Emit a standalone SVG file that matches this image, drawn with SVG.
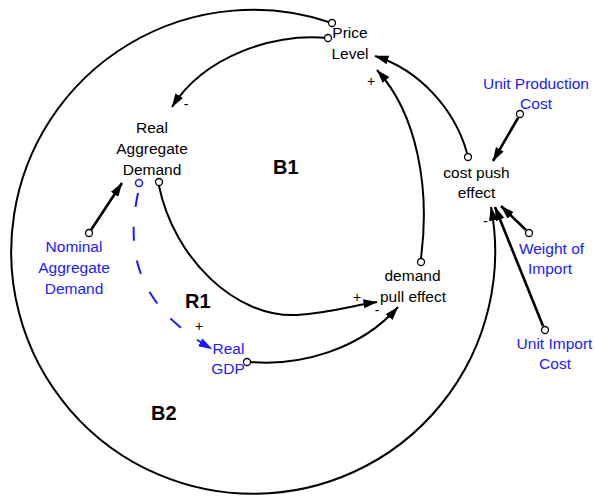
<svg xmlns="http://www.w3.org/2000/svg" width="595" height="498" viewBox="0 0 595 498">
  <style>
    .lbl { font-family: "Liberation Sans", Arial, sans-serif; font-size: 15.5px; text-anchor: middle; fill: #000; }
    .aux { fill: #2020ff; }
    .loop { font-family: "Liberation Sans", Arial, sans-serif; font-size: 20px; font-weight: bold; fill: #000; }
    .pol { font-family: "Liberation Sans", Arial, sans-serif; font-size: 14px; text-anchor: middle; fill: #000; }
    .link { fill: none; stroke: #000; stroke-width: 2; marker-end: url(#ah); }
    .thick { stroke-width: 2.6; }
    .dash { fill: none; stroke: #1a1aff; stroke-width: 2; stroke-dasharray: 14 20; marker-end: url(#ahb); }
    .tail { fill: #fff; stroke: #000; stroke-width: 1.3; }
    .tailb { fill: #fff; stroke: #1a1aff; stroke-width: 1.5; }
  </style>
  <defs>
    <marker id="ah" viewBox="0 0 14 9" refX="13.5" refY="4.5" markerWidth="14" markerHeight="9" markerUnits="userSpaceOnUse" orient="auto">
      <path d="M0,0 L14,4.5 L0,9 z" fill="#000"/>
    </marker>
    <marker id="ahb" viewBox="0 0 14 9" refX="13.5" refY="4.5" markerWidth="14" markerHeight="9" markerUnits="userSpaceOnUse" orient="auto">
      <path d="M0,0 L14,4.5 L0,9 z" fill="#1a1aff"/>
    </marker>
  </defs>

  <!-- causal links -->
  <g id="connectors">
    <!-- outer loop B2: Price Level round to cost push effect -->
    <path class="link" d="M 332 23 A 242 242 0 1 0 491 207"/>
    <!-- Price Level -> Real Aggregate Demand -->
    <path class="link" d="M 328 38 C 275 33, 205 55, 172 107"/>
    <!-- cost push effect -> Price Level -->
    <path class="link" d="M 467 153 C 455 110, 420 70, 375 56"/>
    <!-- demand pull effect -> Price Level -->
    <path class="link" d="M 421 258 C 430 190, 418 115, 377 70"/>
    <!-- Real Aggregate Demand -> demand pull effect -->
    <path class="link" d="M 159 186 C 174 258, 235 318, 297 315 C 330 313, 355 305, 377 302"/>
    <!-- Real GDP -> demand pull effect -->
    <path class="link" d="M 251 362 C 300 366, 360 350, 398 307"/>
    <!-- Real Aggregate Demand -> Real GDP (delayed, dashed) -->
    <path class="dash" d="M 138 193 C 126 250, 135 305, 212 349"/>
    <!-- Nominal Aggregate Demand -> Real Aggregate Demand -->
    <path class="link thick" d="M 91 230 L 122 183"/>
    <!-- Unit Production Cost -> cost push effect -->
    <path class="link thick" d="M 518 118 L 493 161"/>
    <!-- Weight of Import -> cost push effect -->
    <path class="link thick" d="M 526 230 L 501 206"/>
    <!-- Unit Import Cost -> cost push effect -->
    <path class="link thick" d="M 543 326 L 495 207"/>

    <!-- link tails -->
    <circle class="tail" cx="332" cy="23" r="3.5"/>
    <circle class="tail" cx="328" cy="38" r="3.5"/>
    <circle class="tail" cx="468" cy="157" r="3.5"/>
    <circle class="tail" cx="421" cy="262" r="3.5"/>
    <circle class="tail" cx="159" cy="182" r="3.5"/>
    <circle class="tailb" cx="139" cy="183" r="3.5"/>
    <circle class="tail" cx="247" cy="362" r="3.5"/>
    <circle class="tail" cx="89" cy="233" r="3.5"/>
    <circle class="tail" cx="520" cy="114" r="3.5"/>
    <circle class="tail" cx="529" cy="233" r="3.5"/>
    <circle class="tail" cx="545" cy="330" r="3.5"/>

    <!-- polarities -->
    <text class="pol" x="371" y="86">+</text>
    <text class="pol" x="186" y="109">-</text>
    <text class="pol" x="357" y="302">+</text>
    <text class="pol" x="377" y="315">-</text>
    <text class="pol" x="199" y="331" fill="#1a1aff">+</text>
    <text class="pol" x="485.5" y="226">-</text>
  </g>

  <!-- variables -->
  <g id="price-level">
    <text class="lbl" x="350" y="37.5">Price</text>
    <text class="lbl" x="350" y="58.5">Level</text>
  </g>
  <g id="real-aggregate-demand">
    <text class="lbl" x="152" y="132.5">Real</text>
    <text class="lbl" x="152" y="153.5">Aggregate</text>
    <text class="lbl" x="152" y="174.5">Demand</text>
  </g>
  <g id="nominal-aggregate-demand">
    <text class="lbl aux" x="74" y="251.5">Nominal</text>
    <text class="lbl aux" x="74" y="272.5">Aggregate</text>
    <text class="lbl aux" x="74" y="293.5">Demand</text>
  </g>
  <g id="real-gdp">
    <text class="lbl aux" x="228.5" y="353.5">Real</text>
    <text class="lbl aux" x="228" y="373.5">GDP</text>
  </g>
  <g id="demand-pull-effect">
    <text class="lbl" x="412.5" y="281">demand</text>
    <text class="lbl" x="413" y="302">pull effect</text>
  </g>
  <g id="cost-push-effect">
    <text class="lbl" x="476.5" y="177.5">cost push</text>
    <text class="lbl" x="476.5" y="197.5">effect</text>
  </g>
  <g id="unit-production-cost">
    <text class="lbl aux" x="536" y="88.5">Unit Production</text>
    <text class="lbl aux" x="536" y="109">Cost</text>
  </g>
  <g id="weight-of-import">
    <text class="lbl aux" x="551.5" y="253.5">Weight of</text>
    <text class="lbl aux" x="550" y="274">Import</text>
  </g>
  <g id="unit-import-cost">
    <text class="lbl aux" x="554.5" y="348.5">Unit Import</text>
    <text class="lbl aux" x="555" y="368.5">Cost</text>
  </g>

  <!-- loop identifiers -->
  <g id="loop-b1"><text class="loop" x="273" y="174">B1</text></g>
  <g id="loop-r1"><text class="loop" x="185" y="308">R1</text></g>
  <g id="loop-b2"><text class="loop" x="151" y="420">B2</text></g>
</svg>
